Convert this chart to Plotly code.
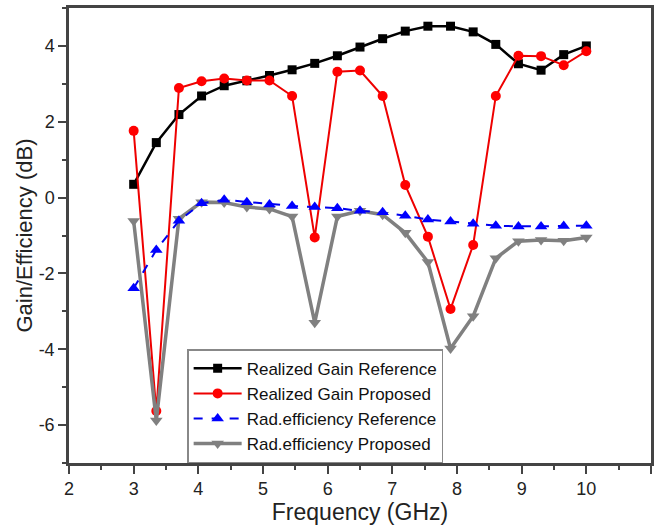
import plotly.graph_objects as go

freq = [3.0, 3.35, 3.7, 4.05, 4.4, 4.75, 5.1, 5.45, 5.8, 6.15, 6.5, 6.85,
        7.2, 7.55, 7.9, 8.25, 8.6, 8.95, 9.3, 9.65, 10.0]

gain_ref = [0.35, 1.45, 2.19, 2.68, 2.95, 3.08, 3.22, 3.37, 3.54, 3.74, 3.97, 4.19,
            4.39, 4.52, 4.52, 4.37, 4.04, 3.53, 3.36, 3.77, 4.0]
gain_prop = [1.76, -5.63, 2.89, 3.07, 3.14, 3.09, 3.09, 2.68, -1.05, 3.32, 3.35, 2.68,
             0.33, -1.03, -2.94, -1.25, 2.68, 3.74, 3.73, 3.49, 3.86]
eff_ref = [-2.39, -1.38, -0.61, -0.15, -0.06, -0.12, -0.18, -0.22, -0.25, -0.28, -0.35, -0.39,
           -0.48, -0.58, -0.63, -0.69, -0.74, -0.76, -0.76, -0.75, -0.74]
eff_prop = [-0.62, -5.88, -0.56, -0.12, -0.13, -0.25, -0.3, -0.5, -3.3, -0.5, -0.35, -0.45,
            -0.93, -1.7, -3.98, -3.13, -1.6, -1.15, -1.12, -1.14, -1.05]

x_ticks = [2, 3, 4, 5, 6, 7, 8, 9, 10, 11]
y_ticks = [-6, -4, -2, 0, 2, 4]
y_tick_labels = ["-6", "-4", "-2", "0", "2", "4"]

FONT = "Liberation Sans, Arial"

fig = go.Figure()
fig.add_trace(go.Scatter(x=freq, y=gain_ref, mode="lines+markers", name="Realized Gain Reference",
                         line=dict(color="black", width=2.5),
                         marker=dict(symbol="square", size=9, color="black"), legendrank=1))
fig.add_trace(go.Scatter(x=freq, y=gain_prop, mode="lines+markers", name="Realized Gain Proposed",
                         line=dict(color="#ee0000", width=2),
                         marker=dict(symbol="circle", size=10, color="#ff0000"), legendrank=2))
fig.add_trace(go.Scatter(x=freq, y=eff_prop, mode="lines+markers", name="Rad.efficiency Proposed",
                         line=dict(color="#808080", width=3.5),
                         marker=dict(symbol="triangle-down", size=11, color="#808080"), legendrank=4))
fig.add_trace(go.Scatter(x=freq, y=eff_ref, mode="lines+markers", name="Rad.efficiency Reference",
                         line=dict(color="#0000ee", width=2, dash="dash"),
                         marker=dict(symbol="triangle-up", size=11, color="#0000ff"), legendrank=3))

axis_common = dict(showline=True, linecolor="#444444", linewidth=2.5, mirror=True,
                   ticks="outside", ticklen=8, tickwidth=2, tickcolor="#444444",
                   showgrid=False, zeroline=False,
                   tickfont=dict(family=FONT, size=18, color="#222222"))

fig.update_xaxes(range=[2, 11], tickvals=x_ticks,
                 minor=dict(ticks="outside", ticklen=4, tickwidth=2, tickcolor="#444444", dtick=0.5),
                 title=dict(text="Frequency (GHz)", font=dict(family=FONT, size=23, color="#222222"),
                            standoff=0),
                 **axis_common)
fig.update_yaxes(range=[-7, 5], tickvals=y_ticks, ticktext=y_tick_labels,
                 minor=dict(ticks="outside", ticklen=4, tickwidth=2, tickcolor="#444444", dtick=1),
                 title=dict(text="Gain/Efficiency (dB)", font=dict(family=FONT, size=22, color="#222222"),
                            standoff=0),
                 **axis_common)

fig.update_layout(
    width=660, height=527,
    margin=dict(l=69, r=9, t=5, b=64),
    paper_bgcolor="white", plot_bgcolor="white",
    legend=dict(x=0.203, y=0.25, xanchor="left", yanchor="top",
                bgcolor="white", bordercolor="#888888", borderwidth=1.5,
                font=dict(family=FONT, size=17, color="#111111"),
                tracegroupgap=0, itemwidth=48),
)

fig.write_html("out.html")
